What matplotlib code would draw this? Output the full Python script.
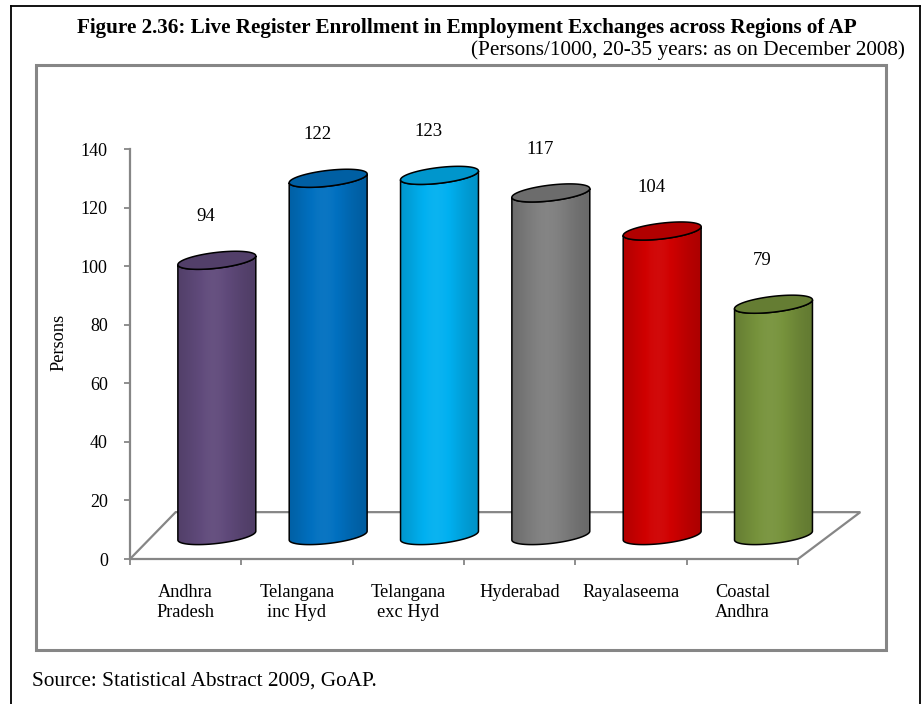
import numpy as np
import matplotlib
matplotlib.use("Agg")
import matplotlib.pyplot as plt
from matplotlib.patches import Polygon, Rectangle
from matplotlib.lines import Line2D
from matplotlib.colors import to_rgb

regions = ["Andhra\nPradesh", "Telangana\ninc Hyd", "Telangana\nexc Hyd",
           "Hyderabad", "Rayalaseema", "Coastal\nAndhra"]
persons = [94, 122, 123, 117, 104, 79]
bar_colors = ["#604A7B", "#0070C0", "#00B0F0", "#7F7F7F", "#D00000", "#77933C"]
yticks = [0, 20, 40, 60, 80, 100, 120, 140]

title = "Figure 2.36: Live Register Enrollment in Employment Exchanges across Regions of AP"
subtitle = "(Persons/1000, 20-35 years: as on December 2008)"
source = "Source: Statistical Abstract 2009, GoAP."

plt.rcParams['font.family'] = ['Liberation Serif', 'DejaVu Serif']

W, H = 922, 704
GRAY = "#868686"
fig = plt.figure(figsize=(W / 100, H / 100), dpi=100)


def px_box(x0, y0, x1, y1):
    # pixel box (top-left origin) -> figure fraction rect
    return [x0 / W, 1 - y1 / H, (x1 - x0) / W, (y1 - y0) / H]


def fx(x):
    return x / W


def fy(y):
    return 1 - y / H


# outer black frame (bottom edge runs off the page)
for xs, ys in [([11, 11], [6, 720]), ([11, 920], [6, 6]), ([920, 920], [6, 720])]:
    fig.add_artist(Line2D([fx(v) for v in xs], [fy(v) for v in ys],
                          color="black", lw=1.3, transform=fig.transFigure))

# inner gray chart frame
fig.add_artist(Rectangle((fx(36), fy(650)), fx(886) - fx(36), fy(65) - fy(650),
                         transform=fig.transFigure, facecolor="none",
                         edgecolor=GRAY, lw=2.2))

fig.text(fx(467), fy(28), title, ha="center", va="center",
         fontsize=15.2, fontweight="bold")
fig.text(fx(905), fy(50), subtitle, ha="right", va="center", fontsize=15.3)
fig.text(fx(32), fy(681), source, ha="left", va="center", fontsize=15.3)

# axes: x in category units (0..6 is the front edge of the floor)
ax = fig.add_axes(px_box(130, 149, 130 + 6.6 * 111.33, 559))
ax.patch.set_visible(False)
for side in ["top", "right"]:
    ax.spines[side].set_visible(False)
for side in ["left", "bottom"]:
    ax.spines[side].set_color(GRAY)
    ax.spines[side].set_linewidth(1.6)
ax.spines["bottom"].set_bounds(0, len(regions))

# floor of the 3-D plot
depth = 16
ax.plot([0, 0.41, 6.56, 6], [0, depth, depth, 0], color=GRAY, lw=1.6,
        zorder=1, solid_joinstyle="miter")

a, b, s = 0.35, 2.7, 1.5  # half width, ellipse half height, tilt
t_lo = np.linspace(np.pi, 2 * np.pi, 80)
t_all = np.linspace(0, 2 * np.pi, 160)


def shade(rgb, f):
    rgb = np.array(rgb)
    if f >= 1:
        return rgb + (1 - rgb) * (f - 1)
    return rgb * f


for i, (v, c) in enumerate(zip(persons, bar_colors)):
    cx = i + 0.78
    y0 = depth / 2
    y1 = y0 + v
    rgb = to_rgb(c)

    bot = np.column_stack([cx + a * np.cos(t_lo), y0 + b * np.sin(t_lo) + s * np.cos(t_lo)])
    top = np.column_stack([cx + a * np.cos(t_lo), y1 + b * np.sin(t_lo) + s * np.cos(t_lo)])
    body = Polygon(np.vstack([bot, top[::-1]]), closed=True, facecolor="none",
                   edgecolor="black", lw=1.1, zorder=3)
    ax.add_patch(body)

    u = np.linspace(0, 1, 120)
    prof = 0.8 + 0.24 * np.exp(-((u - 0.45) / 0.38) ** 2)
    img = np.array([[shade(rgb, f) for f in prof]])
    im = ax.imshow(img, extent=[cx - a, cx + a, y0 - b - s - 1, y1 + b + s + 1],
                   aspect="auto", interpolation="bilinear", zorder=2)
    im.set_clip_path(body)

    cap = np.column_stack([cx + a * np.cos(t_all), y1 + b * np.sin(t_all) + s * np.cos(t_all)])
    ax.add_patch(Polygon(cap, closed=True, facecolor=shade(rgb, 0.85),
                         edgecolor="black", lw=1.1, zorder=4))

    ax.text(i + 0.68, v + 23, str(v), ha="center", va="center", fontsize=13.5)

ax.set_xlim(0, 6.6)
ax.set_ylim(0, 140)
ax.set_yticks(yticks)
ax.tick_params(axis="y", length=4, width=1.3, color=GRAY, labelsize=13, pad=12)
ax.set_xticks(range(len(regions) + 1))
ax.set_xticklabels([])
ax.set_xticks([i + 0.5 for i in range(len(regions))], minor=True)
ax.set_xticklabels(regions, minor=True, fontsize=13.2, linespacing=1.2)
ax.tick_params(axis="x", which="major", length=4, width=1.3, color=GRAY)
ax.tick_params(axis="x", which="minor", length=0, pad=18)

ax.set_ylabel("Persons", fontsize=13.2)
ax.yaxis.set_label_coords(-0.085, 0.527)

fig.savefig("out.png", dpi=100)
